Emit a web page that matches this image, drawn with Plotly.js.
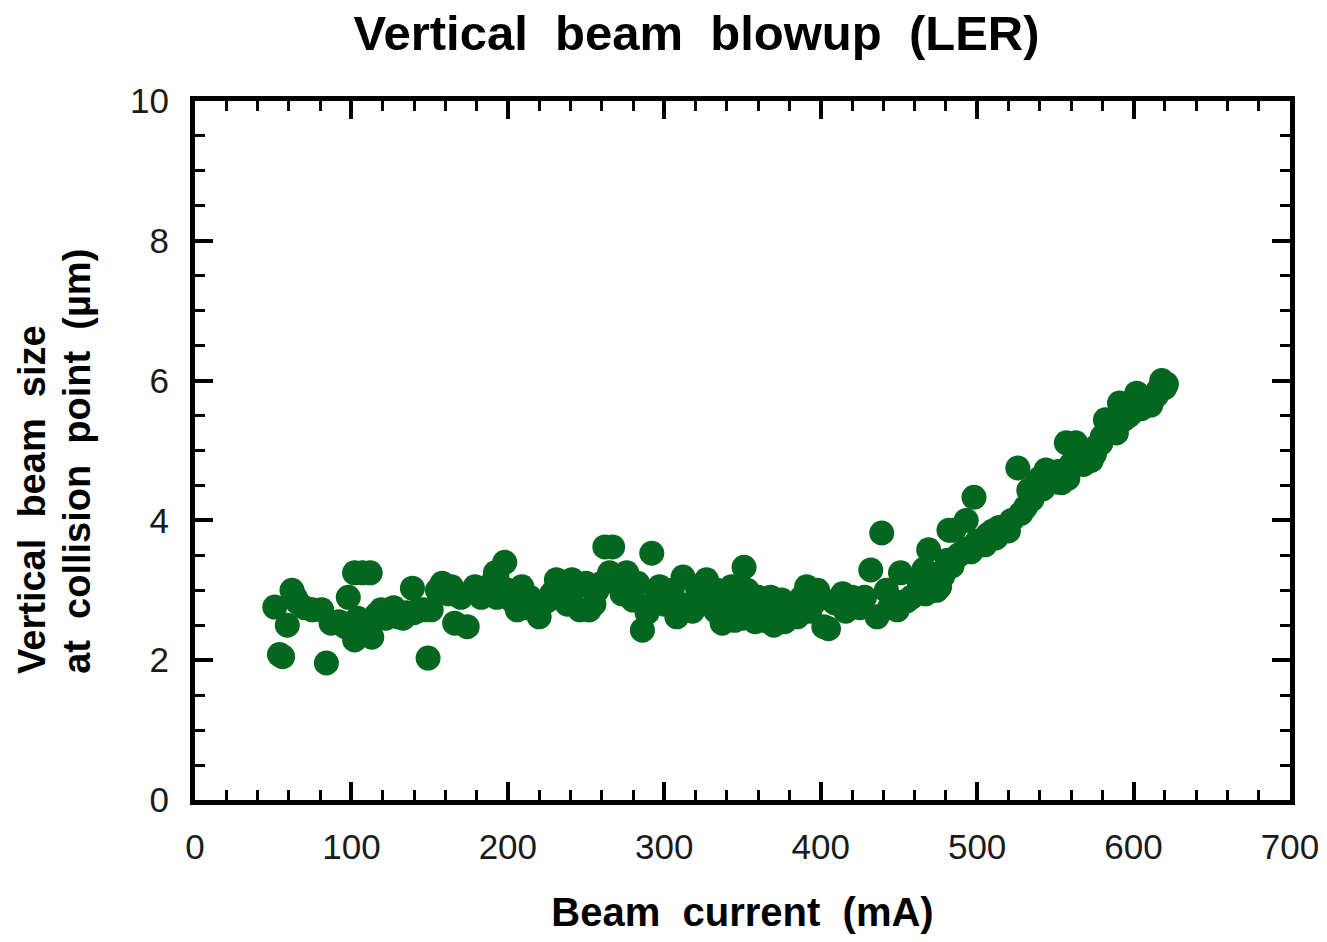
<!DOCTYPE html>
<html>
<head>
<meta charset="utf-8">
<script src="https://cdn.plot.ly/plotly-3.0.1.min.js"></script>
<style>html,body{margin:0;padding:0;background:#fff;}#chart{width:1327px;height:942px;}</style>
</head>
<body>
<div id="chart"></div>
<script>
// Beam current (mA)
const beamCurrent = [51,54,56,59,62,64,66,70,75,81,84,87,92,96,98,102,102,104,107,109,112,113,116,119,122,125,127,130,133,135,139,140,143,146,149,151,155,158,162,164,166,170,174,179,183,187,192,193,193,198,200,203,206,209,212,214,220,225,228,231,236,238,241,244,246,250,252,255,257,260,262,267,265,270,273,276,280,283,286,289,292,294,297,300,303,305,308,312,316,318,321,324,327,330,333,334,337,340,342,343,345,346,348,350,351,353,355,357,358,360,362,364,367,368,370,372,375,377,380,382,385,388,391,393,395,398,400,402,405,409,414,416,420,425,428,432,436,439,442,444,446,449,451,455,458,463,466,467,469,472,474,476,478,479,481,482,484,485,488,490,493,495,496,498,500,503,505,507,510,512,514,518,520,522,526,528,531,533,535,537,540,542,544,548,551,552,554,557,558,560,563,566,568,570,573,575,576,579,580,582,585,587,589,591,593,594,597,599,600,602,604,605,608,610,611,613,615,616,618,620,621];
// Vertical beam size at collision point (um)
const beamSize = [2.76,2.08,2.05,2.5,3.0,2.9,2.82,2.75,2.72,2.72,1.96,2.53,2.55,2.48,2.9,2.29,3.25,2.6,3.25,2.4,3.25,2.33,2.65,2.72,2.6,2.7,2.75,2.62,2.6,2.68,3.03,2.68,2.72,2.72,2.03,2.72,3.0,3.1,2.95,3.05,2.53,2.9,2.48,3.05,2.9,3.05,3.25,2.9,3.19,3.4,3.0,2.85,2.72,3.05,2.75,2.9,2.62,2.85,2.95,3.15,3.0,2.8,3.15,3.05,2.72,3.1,2.72,2.8,3.0,3.1,3.62,3.62,3.25,3.1,2.95,3.25,2.86,3.1,2.43,2.68,3.53,2.85,3.05,2.8,2.9,3.0,2.62,3.19,2.8,2.7,3.05,2.9,3.15,2.85,2.7,3.0,2.53,2.8,2.7,3.05,2.57,2.95,2.75,2.6,3.33,3.0,2.9,2.65,2.55,2.9,2.8,2.57,2.75,2.9,2.5,2.6,2.86,2.55,2.7,2.8,2.62,2.9,3.05,2.7,2.8,3.0,2.9,2.48,2.45,2.82,2.95,2.7,2.9,2.75,2.9,3.29,2.62,3.82,3.0,2.75,2.85,2.72,3.25,2.85,2.9,3.1,3.3,2.95,3.58,3.1,3.0,3.05,3.2,3.3,3.43,3.86,3.35,3.86,3.5,3.53,4.0,3.6,3.55,4.33,3.7,3.72,3.65,3.8,3.85,3.75,3.9,3.9,3.85,4.0,4.75,4.1,4.19,4.43,4.3,4.5,4.6,4.45,4.72,4.6,4.55,4.7,4.54,5.11,4.6,4.8,5.11,4.9,4.8,4.95,4.86,4.95,5.05,5.1,5.2,5.44,5.3,5.35,5.25,5.68,5.6,5.45,5.5,5.54,5.6,5.82,5.75,5.6,5.7,5.72,5.65,5.75,5.8,5.87,6.0,5.9,5.95];
const xTickVals = [0,100,200,300,400,500,600,700];
const yTickVals = [0,2,4,6,8,10];
const yTitleLines = ['Vertical  beam  size', 'at  collision  point  (µm)'];

const trace = {
  x: beamCurrent, y: beamSize, type: 'scatter', mode: 'markers',
  marker: {size: 25, color: '#05671f', line: {width: 0}},
  hoverinfo: 'x+y'
};
const fam = 'Liberation Sans, Arial, sans-serif';
const tickFont = {family: fam, size: 35, color: '#1a1a1a'};
const yTitleX = [-0.149, -0.108];
const layout = {
  width: 1327, height: 942,
  margin: {l: 195, r: 37, t: 101, b: 142},
  paper_bgcolor: '#fff', plot_bgcolor: '#fff',
  showlegend: false,
  title: {text: '<b>Vertical  beam  blowup  (LER)</b>', x: 0.458, xref: 'paper', xanchor: 'center', y: 0.965, yanchor: 'middle',
          font: {family: fam, size: 49, color: '#000'}},
  xaxis: {
    range: [0, 700], tickvals: xTickVals, ticktext: xTickVals.map(String),
    showgrid: false, zeroline: false, showline: true, linecolor: '#000', linewidth: 5, mirror: 'ticks',
    ticks: 'inside', ticklen: 18, tickwidth: 4, tickcolor: '#000',
    minor: {dtick: 20, ticks: 'inside', ticklen: 10, tickwidth: 3, tickcolor: '#000', showgrid: false},
    tickfont: tickFont, ticklabelstandoff: 12,
    title: {text: '<b>Beam  current  (mA)</b>', font: {family: fam, size: 40, color: '#000'}, standoff: 34}
  },
  yaxis: {
    range: [0, 10], tickvals: yTickVals, ticktext: yTickVals.map(String),
    showgrid: false, zeroline: false, showline: true, linecolor: '#000', linewidth: 5, mirror: 'ticks',
    ticks: 'inside', ticklen: 18, tickwidth: 4, tickcolor: '#000',
    minor: {dtick: 0.5, ticks: 'inside', ticklen: 10, tickwidth: 3, tickcolor: '#000', showgrid: false},
    tickfont: tickFont, ticklabelstandoff: 14,
    title: {text: ''}
  },
  annotations: yTitleLines.map((t, i) => ({
    text: '<b>' + t + '</b>', textangle: -90, xref: 'paper', yref: 'paper',
    x: yTitleX[i], y: 0.178, xanchor: 'center', yanchor: 'bottom', showarrow: false,
    font: {family: fam, size: 38, color: '#000'}
  }))
};
Plotly.newPlot('chart', [trace], layout, {displayModeBar: false, staticPlot: true});
</script>
</body>
</html>
